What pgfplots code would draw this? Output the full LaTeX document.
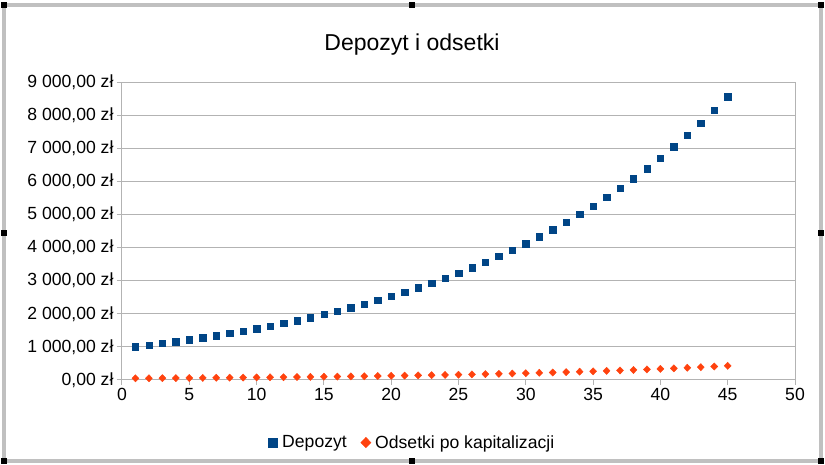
\documentclass[border=0pt]{standalone}
\usepackage{pgfplots}
\pgfplotsset{compat=1.18}
\usepackage{fontspec}
\setmainfont{Liberation Sans}
\definecolor{dep}{HTML}{004586}
\definecolor{ods}{HTML}{FF420E}
\definecolor{gridc}{HTML}{B3B3B3}
\definecolor{framec}{HTML}{C0C0C0}
\begin{document}
\begin{tikzpicture}
\useasboundingbox (0pt,0pt) rectangle (825pt,465pt);
\fill[white] (0pt,0pt) rectangle (825pt,465pt);
% spreadsheet selection frame
\draw[framec,line width=4pt] (4pt,4pt) rectangle (821pt,460pt);
\foreach \px/\py in {4/4,412/4,821/4,4/232,821/232,4/460,412/460,821/460}
  \fill[black] (\px pt-3pt,\py pt-3pt) rectangle ++(6pt,6pt);
\node[font=\fontsize{23}{27}\selectfont] at (412pt,420pt) {Depozyt i odsetki};
\begin{axis}[
  at={(122pt,85pt)}, anchor=origin,
  scale only axis, width=673pt, height=298pt,
  xmin=0, xmax=50, ymin=0, ymax=9000,
  xtick={0,5,...,50}, ytick={0,1000,...,9000},
  yticklabels={{0,00 zł},{1 000,00 zł},{2 000,00 zł},{3 000,00 zł},{4 000,00 zł},{5 000,00 zł},{6 000,00 zł},{7 000,00 zł},{8 000,00 zł},{9 000,00 zł}},
  ymajorgrids, grid style={gridc, line width=1pt},
  axis line style={gridc, line width=1pt},
  tick style={gridc, line width=1pt},
  tick align=outside, major tick length=5pt,
  xtick pos=bottom, ytick pos=left,
  ticklabel style={font=\fontsize{17.6}{20}\selectfont, text=black},
  /pgf/number format/assume math mode=true,
  legend columns=2,
  legend style={at={(0.431,-0.21)}, anchor=center, draw=none, fill=none,
    font=\fontsize{17.6}{20}\selectfont,
    /tikz/every odd column/.append style={column sep=0pt},
    /tikz/every even column/.append style={column sep=12pt}},
  legend cell align=left,
  legend image code/.code={%
    \path (0cm,-0.1cm) (0.42cm,0.1cm);
    \draw[/tikz/every mark/.append style={scale=1.45}] plot coordinates {(0.17cm,0cm)};},
  clip=false,
]
\addplot[only marks, mark=square*, mark size=3.2pt, mark options={fill=dep, draw=dep}] coordinates {
(1,1000.00)(2,1050.00)(3,1102.50)(4,1157.63)(5,1215.51)(6,1276.28)(7,1340.10)(8,1407.10)(9,1477.46)(10,1551.33)
(11,1628.89)(12,1710.34)(13,1795.86)(14,1885.65)(15,1979.93)(16,2078.93)(17,2182.87)(18,2292.02)(19,2406.62)(20,2526.95)
(21,2653.30)(22,2785.96)(23,2925.26)(24,3071.52)(25,3225.10)(26,3386.35)(27,3555.67)(28,3733.46)(29,3920.13)(30,4116.14)
(31,4321.94)(32,4538.04)(33,4764.94)(34,5003.19)(35,5253.35)(36,5516.02)(37,5791.82)(38,6081.41)(39,6385.48)(40,6704.75)
(41,7039.99)(42,7391.99)(43,7761.59)(44,8149.67)(45,8557.15)};
\addlegendentry{Depozyt}
\addplot[only marks, mark=diamond*, mark size=3.6pt, mark options={fill=ods, draw=ods, xscale=1.3}] coordinates {
(1,50.00)(2,52.50)(3,55.13)(4,57.88)(5,60.78)(6,63.81)(7,67.01)(8,70.36)(9,73.87)(10,77.57)
(11,81.44)(12,85.52)(13,89.79)(14,94.28)(15,99.00)(16,103.95)(17,109.14)(18,114.60)(19,120.33)(20,126.35)
(21,132.67)(22,139.30)(23,146.26)(24,153.58)(25,161.26)(26,169.32)(27,177.78)(28,186.67)(29,196.01)(30,205.81)
(31,216.10)(32,226.90)(33,238.25)(34,250.16)(35,262.67)(36,275.80)(37,289.59)(38,304.07)(39,319.27)(40,335.24)
(41,352.00)(42,369.60)(43,388.08)(44,407.48)(45,427.86)};
\addlegendentry{Odsetki po kapitalizacji}
\end{axis}
\end{tikzpicture}
\end{document}
